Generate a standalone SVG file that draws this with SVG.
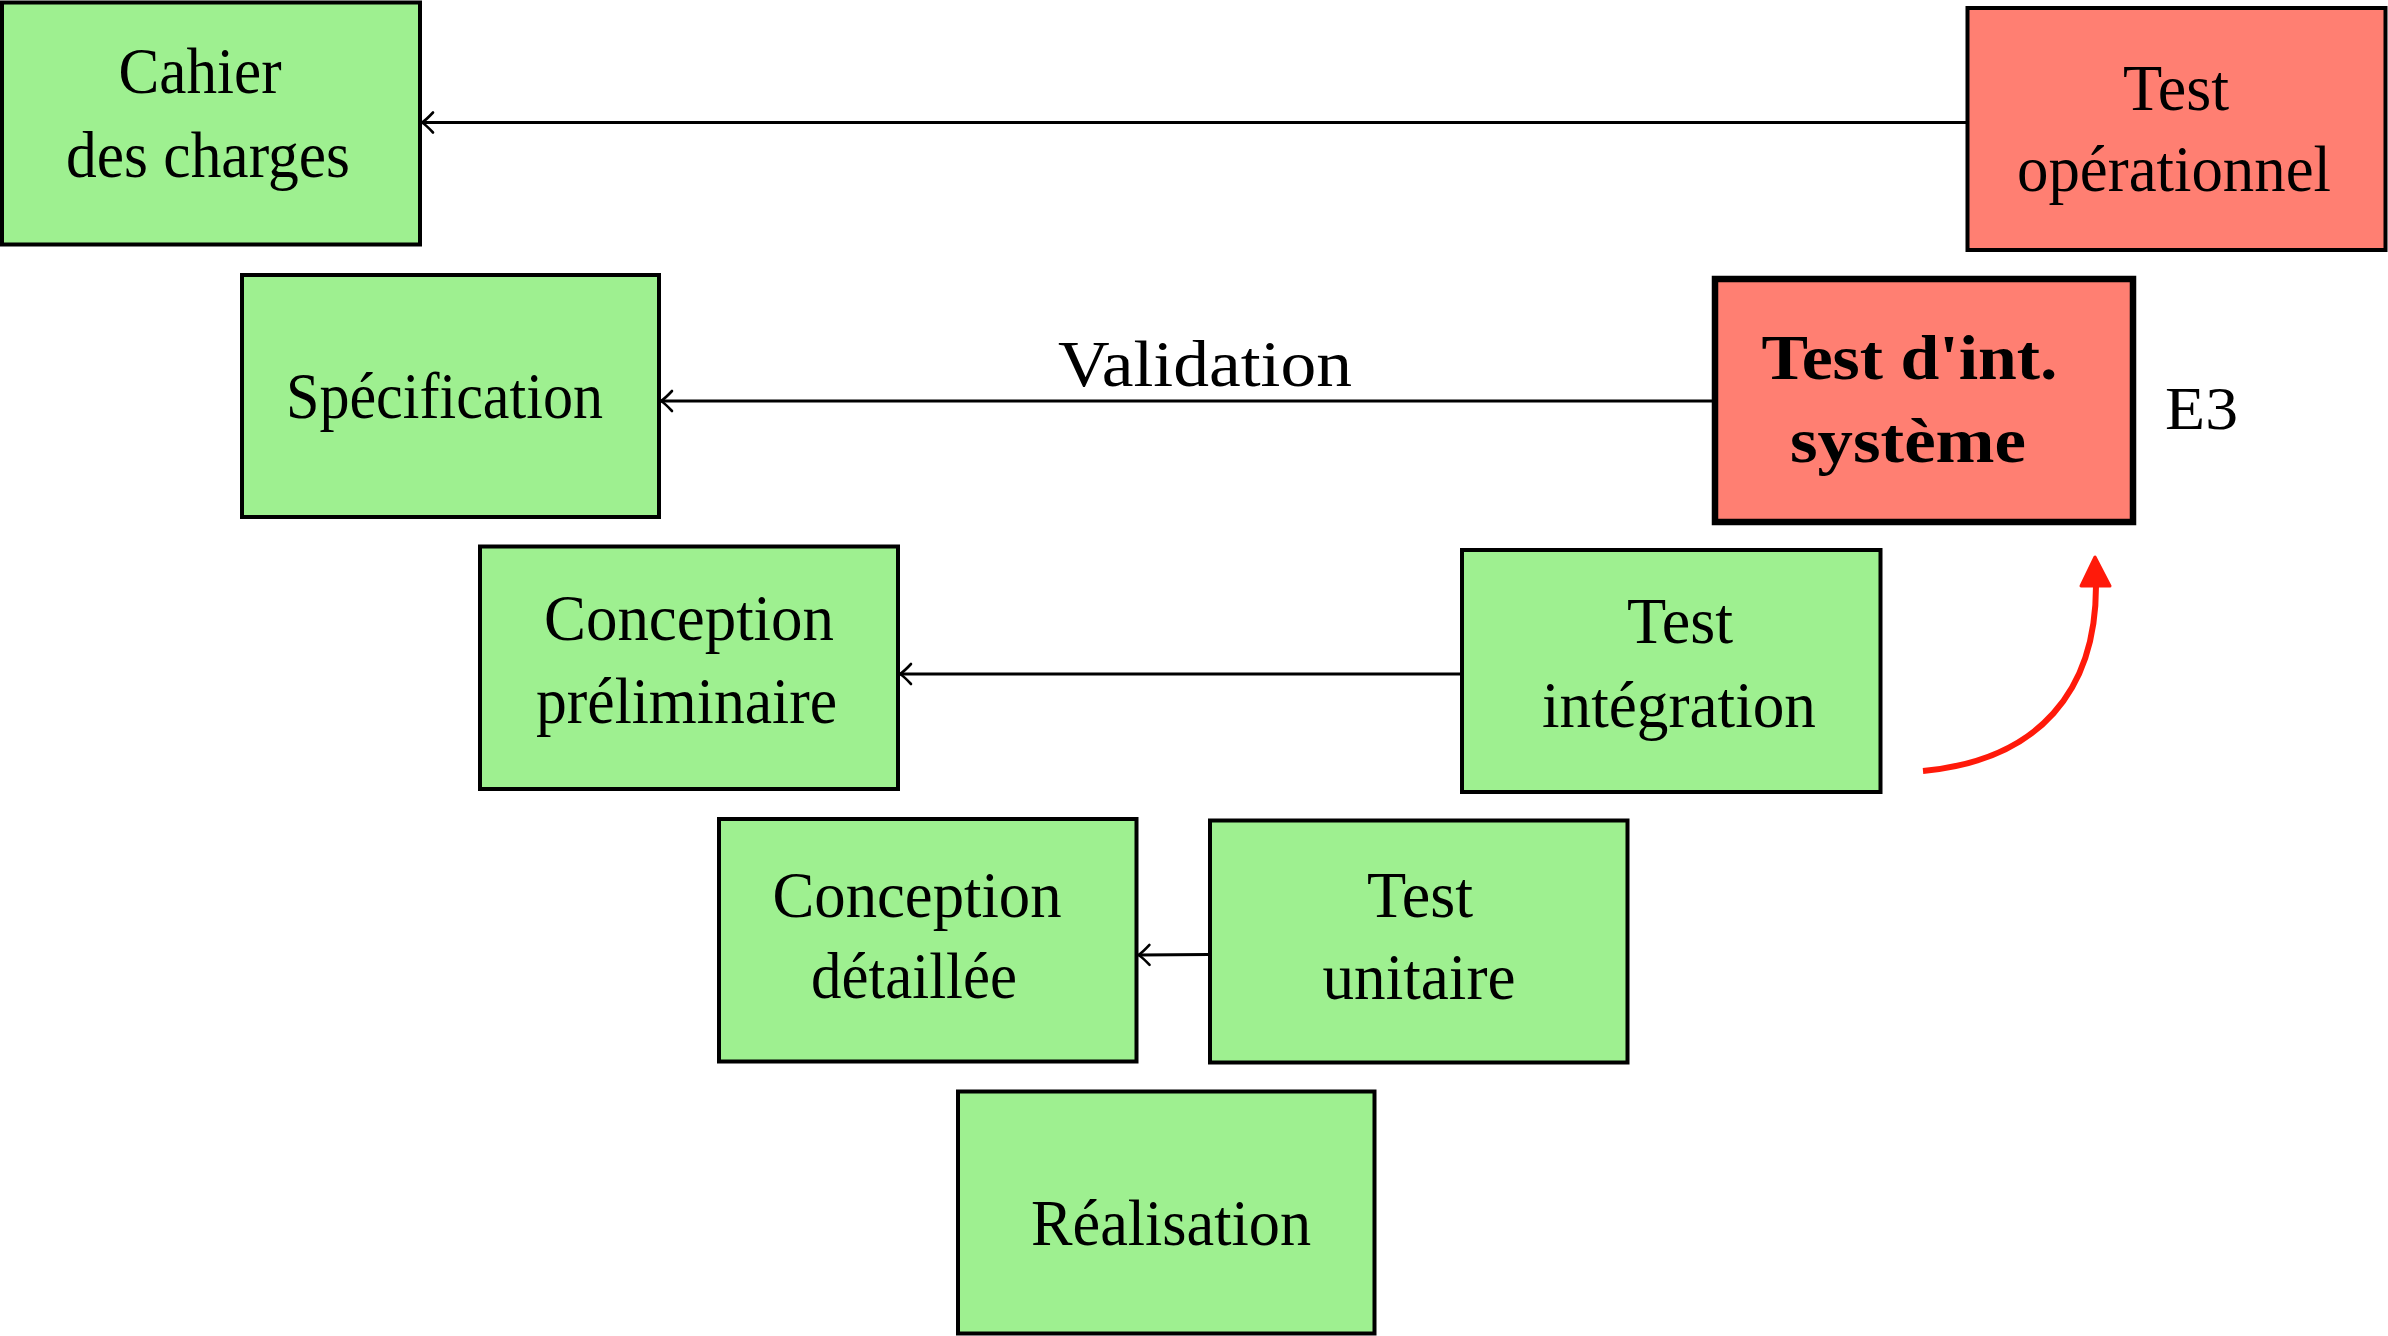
<svg xmlns="http://www.w3.org/2000/svg" width="2388" height="1336" viewBox="0 0 2388 1336">
<style>
  .box { stroke: #000; stroke-width: 4; }
  .g { fill: #9ef090; }
  .r { fill: #ff7f72; }
  .bold { stroke-width: 6.5; }
  text { font-family: "Liberation Serif", "Times New Roman", serif; fill: #000; text-anchor: middle; }
  .t { font-size: 66px; }
  .tb { font-size: 64px; font-weight: bold; }
  .lbl { font-size: 66px; }
  .e { font-size: 62px; text-anchor: start; }
  .conn { fill: none; stroke: #000; stroke-width: 2.8; }
  .red { fill: none; stroke: #ff1a0a; stroke-width: 6; }
</style>
<defs>
  <marker id="arr" markerUnits="userSpaceOnUse" viewBox="-14 -12 16 24" refX="0" refY="0" markerWidth="16" markerHeight="24" orient="auto" overflow="visible">
    <path d="M -11 -10 Q -4 -2.5 0 0 Q -4 2.5 -11 10" fill="none" stroke="#000" stroke-width="2.6" stroke-linecap="round"/>
  </marker>
</defs>
<g id="connectors">
  <line class="conn" x1="1967" y1="122.5" x2="422" y2="122.5" marker-end="url(#arr)"/>
  <line class="conn" x1="1714" y1="401" x2="661" y2="401" marker-end="url(#arr)"/>
  <line class="conn" x1="1461" y1="674" x2="900" y2="674" marker-end="url(#arr)"/>
  <line class="conn" x1="1209" y1="954.5" x2="1138.5" y2="955" marker-end="url(#arr)"/>
  <path class="red" d="M 1923 771 C 2040 760 2096 690 2096 586"/>
  <polygon points="2095,557 2081,586 2110,586" fill="#ff1a0a" stroke="#ff1a0a" stroke-width="3" stroke-linejoin="round"/>
  <text class="lbl" x="1205" y="386" textLength="294" lengthAdjust="spacingAndGlyphs">Validation</text>
  <text class="e" x="2165" y="429" textLength="73" lengthAdjust="spacingAndGlyphs">E3</text>
</g>
<g id="cahier">
  <rect class="box g" x="2" y="2.5" width="418" height="242"/>
  <text class="t" x="200" y="93" textLength="163" lengthAdjust="spacingAndGlyphs">Cahier</text>
  <text class="t" x="208" y="177" textLength="284" lengthAdjust="spacingAndGlyphs">des charges</text>
</g>
<g id="specification">
  <rect class="box g" x="242" y="275" width="417" height="242"/>
  <text class="t" x="444.5" y="418" textLength="317" lengthAdjust="spacingAndGlyphs">Spécification</text>
</g>
<g id="conception-preliminaire">
  <rect class="box g" x="480" y="546.5" width="418" height="242.5"/>
  <text class="t" x="689" y="640" textLength="290" lengthAdjust="spacingAndGlyphs">Conception</text>
  <text class="t" x="686.5" y="723" textLength="301" lengthAdjust="spacingAndGlyphs">préliminaire</text>
</g>
<g id="conception-detaillee">
  <rect class="box g" x="719" y="819" width="417.5" height="242.5"/>
  <text class="t" x="917" y="917" textLength="289" lengthAdjust="spacingAndGlyphs">Conception</text>
  <text class="t" x="914" y="998" textLength="206" lengthAdjust="spacingAndGlyphs">détaillée</text>
</g>
<g id="realisation">
  <rect class="box g" x="958" y="1091.5" width="416.5" height="242"/>
  <text class="t" x="1171" y="1245" textLength="280" lengthAdjust="spacingAndGlyphs">Réalisation</text>
</g>
<g id="test-unitaire">
  <rect class="box g" x="1210" y="820.5" width="417.5" height="242"/>
  <text class="t" x="1420" y="917" textLength="106" lengthAdjust="spacingAndGlyphs">Test</text>
  <text class="t" x="1419" y="999" textLength="193" lengthAdjust="spacingAndGlyphs">unitaire</text>
</g>
<g id="test-integration">
  <rect class="box g" x="1462" y="550" width="418.5" height="242"/>
  <text class="t" x="1680" y="643" textLength="106" lengthAdjust="spacingAndGlyphs">Test</text>
  <text class="t" x="1679" y="727" textLength="274" lengthAdjust="spacingAndGlyphs">intégration</text>
</g>
<g id="test-int-systeme">
  <rect class="box r bold" x="1715" y="279" width="418" height="243"/>
  <text class="tb" x="1909.5" y="379" textLength="296" lengthAdjust="spacingAndGlyphs">Test d'int.</text>
  <text class="tb" x="1908" y="462" textLength="236" lengthAdjust="spacingAndGlyphs">système</text>
</g>
<g id="test-operationnel">
  <rect class="box r" x="1967.5" y="8" width="418" height="242"/>
  <text class="t" x="2176" y="110" textLength="106" lengthAdjust="spacingAndGlyphs">Test</text>
  <text class="t" x="2174" y="191" textLength="314" lengthAdjust="spacingAndGlyphs">opérationnel</text>
</g>
</svg>
